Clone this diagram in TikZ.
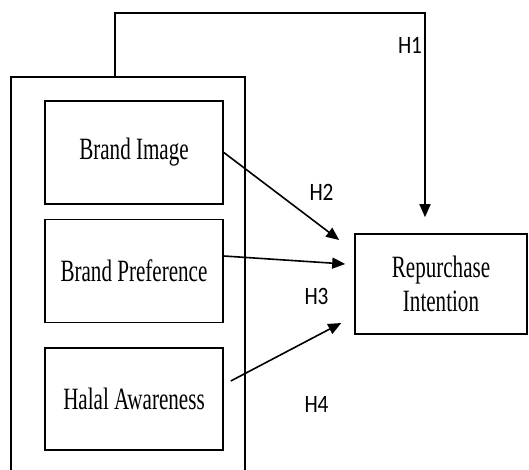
\documentclass[tikz,border=0pt]{standalone}
\usepackage{fontspec}
\setmainfont{Liberation Serif}[FakeStretch=0.68]
\newfontfamily\labelfont{Carlito}[FakeStretch=0.85]
\usetikzlibrary{arrows.meta,calc,positioning}

\begin{document}
\begin{tikzpicture}
    [x=1pt, y=-1pt, line width=1.6pt,
      block/.style={
        rectangle,
        draw=black,
        line width=1.6pt,
        minimum width=178pt,
        minimum height=103pt,
        inner sep=0pt,
        align=center,
        font=\fontsize{31}{34}\selectfont
      },
      hyp/.style={
        font=\labelfont\fontsize{25}{25}\selectfont
      },
      link/.style={
        -{Triangle[length=13pt,width=11pt]},
        line width=1.6pt
      }
    ]
    \useasboundingbox (0,0) rectangle (529,469);

    % independent variables
    \node[block] (image) at (134,152.5) {Brand Image};
    \node[block] (pref) at (134,271) {Brand Preference};
    \node[block, minimum height=102pt] (halal) at (134,399) {Halal Awareness};

    % dependent variable
    \node[block, minimum width=172pt, minimum height=100pt] (rep) at (441,284) {Repurchase\\Intention};

    % group frame, open at the bottom
    \coordinate (grp) at (115,77);
    \draw (11,475) -- (11,77) -- (245,77) -- (245,475);

    \draw[link] (grp) -- ++(0,-64) -| ($(rep.north)+(-16,-16)$);
    \draw[link] (image.east) -- ($(rep.west)+(-15,-44)$);
    \draw[link] ($(pref.east)+(0,-15)$) -- ($(rep.west)+(-9,-20)$);
    \draw[link] ($(halal.east)+(7,-18)$) -- ($(rep.west)+(-13,39)$);

    \node[hyp] (h1) at (410,45) {H1};
    \node[hyp] (h2) at (321.5,192) {H2};
    \node[hyp] (h3) at (316.5,296) {H3};
    \node[hyp] (h4) at (316.5,404) {H4};
\end{tikzpicture}
\end{document}
